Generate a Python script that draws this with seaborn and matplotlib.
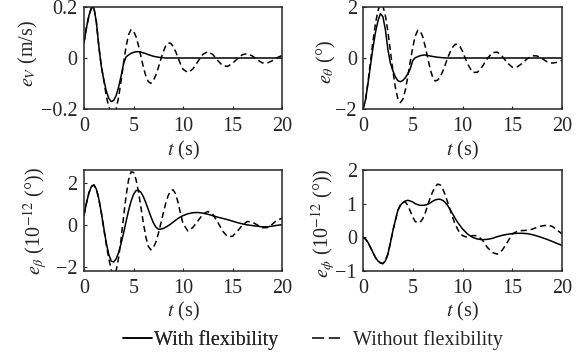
import numpy as np
import pandas as pd
import matplotlib
matplotlib.use("Agg")
import matplotlib.pyplot as plt
from matplotlib.lines import Line2D
import seaborn as sns

# time grid (s): 0.25 s steps up to 10 s, 0.5 s steps after
t = np.concatenate([np.arange(0, 10.001, 0.25), np.arange(10.5, 20.001, 0.5)])

# Panel 1: e_V (m/s)
eV_with = [0.06, 0.119, 0.167, 0.197, 0.197, 0.141, 0.045, -0.033, -0.086, -0.129,
           -0.158, -0.171, -0.166, -0.147, -0.113, -0.07, -0.021, 0.0045, 0.012, 0.018,
           0.022, 0.0245, 0.025, 0.023, 0.02, 0.017, 0.013, 0.01, 0.007, 0.005,
           0.003, 0.002, 0.001, 0.0, 0.0, 0.0, 0.0, 0.0, 0.0, 0.0,
           0.0,
           0.0, 0.0, 0.0, 0.0, 0.0, 0.0, 0.0, 0.0, 0.0, 0.0,
           0.0, 0.0, 0.0, 0.0, 0.0, 0.0, 0.0, 0.0, 0.0, 0.0]
eV_without = [0.06, 0.119, 0.167, 0.197, 0.197, 0.141, 0.045, -0.033, -0.086, -0.15,
              -0.19, -0.215, -0.22, -0.199, -0.153, -0.089, -0.019, 0.045, 0.091, 0.111,
              0.106, 0.084, 0.049, 0.0065, -0.036, -0.071, -0.093, -0.099, -0.089, -0.068,
              -0.039, -0.006, 0.024, 0.047, 0.059, 0.058, 0.046, 0.026, 0.001, -0.024,
              -0.044,
              -0.057, -0.043, -0.014, 0.014, 0.025, 0.014, -0.0095, -0.03, -0.033, -0.021,
              -0.003, 0.013, 0.017, 0.008, -0.0066, -0.019, -0.020, -0.011, 0.001, 0.010]

# Panel 2: e_theta (deg)
eth_with = [-2.0, -1.65, -1.0, -0.3, 0.4, 1.0, 1.45, 1.74, 1.62, 1.11,
            0.34, -0.2, -0.5, -0.74, -0.89, -0.93, -0.88, -0.78, -0.62, -0.42,
            -0.1, 0.01, 0.05, 0.09, 0.11, 0.12, 0.1, 0.08, 0.06, 0.045,
            0.03, 0.02, 0.01, 0.005, 0.0, 0.0, 0.0, 0.0, 0.0, 0.0,
            0.0,
            0.0, 0.0, 0.0, 0.0, 0.0, 0.0, 0.0, 0.0, 0.0, 0.0,
            0.0, 0.0, 0.0, 0.0, 0.0, 0.0, 0.0, 0.0, 0.0, 0.0]
eth_without = [-2.0, -1.65, -0.95, -0.15, 0.65, 1.35, 1.85, 2.13, 2.05, 1.66,
               1.04, 0.28, -0.49, -1.15, -1.59, -1.75, -1.62, -1.27, -0.74, -0.14,
               0.42, 0.86, 1.08, 1.06, 0.84, 0.46, 0.01, -0.43, -0.75, -0.9,
               -0.87, -0.74, -0.54, -0.28, -0.01, 0.23, 0.42, 0.53, 0.54, 0.45,
               0.26,
               -0.22, -0.565, -0.56, -0.33, -0.02, 0.21, 0.23, 0.06, -0.19, -0.36,
               -0.35, -0.21, -0.03, 0.09, 0.08, -0.024, -0.146, -0.2, -0.17, -0.1]

# Panel 3: e_beta (1e-12 deg)
eb_with = [0.45, 1.03, 1.52, 1.82, 1.89, 1.69, 1.22, 0.57, -0.16, -0.86,
           -1.41, -1.73, -1.77, -1.62, -1.32, -0.89, -0.39, 0.15, 0.67, 1.11,
           1.44, 1.62, 1.64, 1.54, 1.33, 1.04, 0.715, 0.39, 0.1, -0.11,
           -0.21, -0.21, -0.18, -0.12, -0.05, 0.03, 0.12, 0.21, 0.3, 0.37,
           0.43,
           0.52, 0.57, 0.58, 0.55, 0.5, 0.43, 0.36, 0.3, 0.24, 0.17,
           0.1, 0.04, -0.01, -0.04, -0.07, -0.1, -0.1, -0.07, -0.03, 0.0]
eb_without = [0.45, 1.03, 1.52, 1.82, 1.89, 1.69, 1.22, 0.57, -0.2, -0.95,
              -1.6, -2.15, -2.4, -2.18, -1.56, -0.65, 0.39, 1.37, 2.13, 2.51,
              2.49, 2.16, 1.57, 0.83, 0.07, -0.59, -1.03, -1.19, -1.1, -0.84,
              -0.44, 0.04, 0.54, 1.01, 1.38, 1.61, 1.66, 1.47, 1.05, 0.53,
              0.05,
              -0.3, -0.13, 0.18, 0.49, 0.63, 0.5, 0.13, -0.3, -0.57, -0.55,
              -0.31, -0.015, 0.155, 0.12, -0.01, -0.14, -0.14, 0.015, 0.22, 0.3]

# Panel 4: e_phi (1e-12 deg)
ep_with = [0.0, -0.05, -0.15, -0.3, -0.45, -0.6, -0.7, -0.76, -0.78, -0.7,
           -0.5, -0.17, 0.19, 0.5, 0.8, 0.95, 1.03, 1.08, 1.1, 1.08,
           1.05, 1.0, 0.97, 0.95, 0.95, 0.96, 0.98, 1.02, 1.07, 1.11,
           1.13, 1.13, 1.1, 1.04, 0.95, 0.83, 0.7, 0.57, 0.45, 0.35,
           0.25,
           0.1, 0.0, -0.05, -0.07, -0.06, -0.03, 0.02, 0.06, 0.09, 0.11,
           0.12, 0.12, 0.11, 0.08, 0.04, -0.01, -0.06, -0.12, -0.18, -0.24]
ep_without = [0.0, -0.05, -0.15, -0.3, -0.45, -0.6, -0.7, -0.76, -0.78, -0.7,
              -0.5, -0.17, 0.19, 0.5, 0.8, 0.95, 1.03, 1.05, 0.95, 0.78,
              0.6, 0.47, 0.43, 0.45, 0.55, 0.72, 0.95, 1.17, 1.35, 1.5,
              1.58, 1.56, 1.45, 1.27, 1.05, 0.82, 0.6, 0.4, 0.25, 0.12,
              0.05,
              0.0, 0.05, 0.05, -0.08, -0.3, -0.45, -0.5, -0.38, -0.15, 0.1,
              0.18, 0.2, 0.21, 0.24, 0.3, 0.34, 0.36, 0.33, 0.22, 0.1]

cases = ["With flexibility", "Without flexibility"]
ylabels = [r"$e_V$ (m/s)", r"$e_\theta$ (°)",
           r"$e_\beta$ (10$^{-12}$ (°))", r"$e_\phi$ (10$^{-12}$ (°))"]
ylims = [(-0.2, 0.2), (-2, 2), (-2.2, 2.6), (-1, 2)]
yticks = [[-0.2, 0, 0.2], [-2, 0, 2], [-2, 0, 2], [-1, 0, 1, 2]]
ytlabels = [["−0.2", "0", "0.2"], ["−2", "0", "2"], ["−2", "0", "2"], ["−1", "0", "1", "2"]]
xticks = [0, 5, 10, 15, 20]

series = [(eV_with, eV_without), (eth_with, eth_without),
          (eb_with, eb_without), (ep_with, ep_without)]

sns.set_style("ticks")
plt.rcParams["font.family"] = ["Liberation Serif", "DejaVu Serif"]
plt.rcParams["mathtext.fontset"] = "stix"

W, H = 584, 358
FS = 14.5
fig = plt.figure(figsize=(W / 100, H / 100), dpi=100)

boxes = [(84, 7, 282, 109), (363, 7, 562, 109), (84, 170, 282, 271), (363, 170, 562, 271)]
ylabel_pos = [(28, 53), (326.5, 62), (35, 221), (323.5, 223)]
xlabel_off = [41, 41, 40, 40]
dash_map = {"With flexibility": "", "Without flexibility": (4, 2.5)}

for i, (x0, y0, x1, y1) in enumerate(boxes):
    aw, ah = x1 - x0, y1 - y0
    ax = fig.add_axes([x0 / W, 1 - y1 / H, aw / W, ah / H])
    w, wo = series[i]
    df = pd.DataFrame({
        "t": np.concatenate([t, t]),
        "v": np.concatenate([wo, w]),
        "case": [cases[1]] * len(t) + [cases[0]] * len(t),
    })
    sns.lineplot(data=df, x="t", y="v", style="case", dashes=dash_map,
                 style_order=[cases[1], cases[0]],
                 color="black", linewidth=1.1, legend=False, ax=ax, sort=False)
    ax.set_xlim(0, 20)
    ax.set_ylim(*ylims[i])
    ax.set_xticks(xticks)
    ax.set_xticklabels([str(x) for x in xticks])
    ax.set_yticks(yticks[i])
    ax.set_yticklabels(ytlabels[i])
    ax.tick_params(direction="in", length=2.5, width=0.8, labelsize=FS)
    ax.tick_params(axis="x", pad=6)
    ax.tick_params(axis="y", pad=4.5)
    ax.set_xlabel(r"$t$ (s)", fontsize=FS)
    ax.xaxis.label.set_va("center")
    ax.xaxis.set_label_coords(0.5, -xlabel_off[i] / ah)
    ax.set_ylabel(ylabels[i], fontsize=FS)
    ax.yaxis.label.set_va("center")
    lx, ly = ylabel_pos[i]
    ax.yaxis.set_label_coords((lx - x0) / aw, (y1 - ly) / ah)
    for s in ax.spines.values():
        s.set_visible(True)
        s.set_linewidth(1.1)

h1 = Line2D([0], [0], color="black", lw=1.1, linestyle="-")
h2 = Line2D([0], [0], color="black", lw=1.1, linestyle=(0, (8, 3)))
leg1 = fig.legend([h1], [cases[0]], loc="center left", bbox_to_anchor=(123 / W, 1 - 340 / H),
                  frameon=False, fontsize=FS, handlelength=29 / 20.1, handletextpad=0.08,
                  borderpad=0, borderaxespad=0)
fig.add_artist(leg1)
fig.legend([h2], [cases[1]], loc="center left", bbox_to_anchor=(312 / W, 1 - 340 / H),
           frameon=False, fontsize=FS, handlelength=28 / 20.1, handletextpad=0.65,
           borderpad=0, borderaxespad=0)

fig.savefig("out.png", dpi=100)
